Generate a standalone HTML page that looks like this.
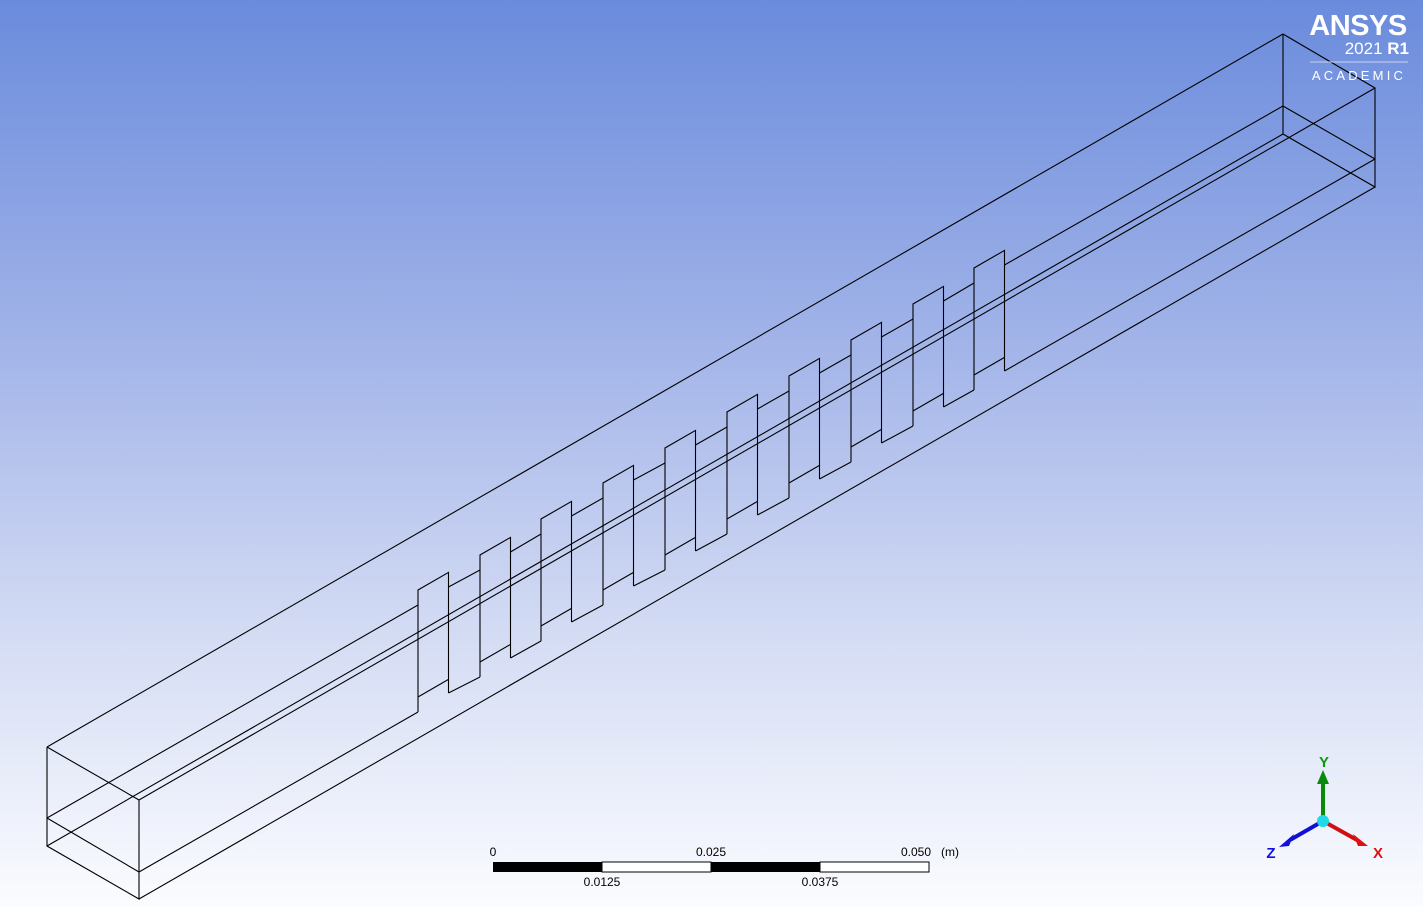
<!DOCTYPE html>
<html><head><meta charset="utf-8"><style>
html,body{margin:0;padding:0}
body{width:1423px;height:907px;overflow:hidden;background:linear-gradient(to bottom,#6a8bdc 0%,#a5b6e9 40%,#d4dcf4 70%,#fbfcff 100%);font-family:"Liberation Sans",sans-serif}
svg{position:absolute;left:0;top:0}
</style></head><body>
<svg id="view" width="1423" height="907" viewBox="0 0 1423 907">
 <g id="wire" stroke="#000" stroke-width="1.1" fill="none">
  <polyline points="47,747 139,800 139,899 47,846 47,747"/>
  <line x1="47" y1="818" x2="139" y2="872"/>
  <polyline points="1283,34 1375,88 1375,187 1283,134 1283,34"/>
  <line x1="1283" y1="106" x2="1375" y2="159"/>
  <line x1="47" y1="747" x2="1283" y2="34"/>
  <line x1="139" y1="800" x2="1375" y2="88"/>
  <line x1="47" y1="846" x2="1283" y2="134"/>
  <line x1="139" y1="899" x2="1375" y2="187"/>
 </g>
 <g fill="#fff">
  <text x="1358" y="35" text-anchor="middle" font-size="29" font-weight="bold" letter-spacing="-0.5">ANSYS</text>
  <text x="1409" y="54" text-anchor="end" font-size="17">2021 <tspan font-weight="bold">R1</tspan></text>
  <line x1="1310" y1="62" x2="1408" y2="62" stroke="#c8d2f0" stroke-width="1"/>
  <text x="1359" y="80" text-anchor="middle" font-size="13" letter-spacing="3.2">ACADEMIC</text>
 </g>
 <g font-size="12" fill="#000">
  <rect x="493" y="862" width="109" height="10" fill="#000"/>
  <rect x="602" y="862" width="109" height="10" fill="#fff" stroke="#000" stroke-width="1"/>
  <rect x="711" y="862" width="109" height="10" fill="#000"/>
  <rect x="820" y="862" width="109" height="10" fill="#fff" stroke="#000" stroke-width="1"/>
  <text x="493" y="856" text-anchor="middle">0</text>
  <text x="711" y="856" text-anchor="middle">0.025</text>
  <text x="916" y="856" text-anchor="middle">0.050</text>
  <text x="950" y="856" text-anchor="middle">(m)</text>
  <text x="602" y="886" text-anchor="middle">0.0125</text>
  <text x="820" y="886" text-anchor="middle">0.0375</text>
 </g>
 <g font-size="15" font-weight="bold">
  <line x1="1323" y1="821" x2="1323" y2="782" stroke="#0a8a0a" stroke-width="4"/>
  <polygon points="1317,784 1329,784 1323,770" fill="#0a8a0a"/>
  <text x="1324" y="767" text-anchor="middle" fill="#0a9a0a">Y</text>
  <line x1="1323" y1="821" x2="1357" y2="840" stroke="#d01010" stroke-width="4"/>
  <polygon points="1353,834 1358,846 1368,846" fill="#e01010"/>
  <text x="1378" y="858" text-anchor="middle" fill="#e01010">X</text>
  <line x1="1323" y1="821" x2="1290" y2="840" stroke="#1010d0" stroke-width="4"/>
  <polygon points="1294,834 1289,846 1279,847" fill="#1010e0"/>
  <text x="1271" y="858" text-anchor="middle" fill="#1010e0">Z</text>
  <circle cx="1323" cy="821" r="6" fill="#20d8e8"/>
 </g>
</svg>
<script>
var finIndex=[0,1,2,3,4,5,6,7,8,9];
var finLeftX=[418,480,541,603,665,727,789,851,913,974];
var finTopY=[590,555,519,483,448,412,376,340,304,268];
var NS='http://www.w3.org/2000/svg';
var g=document.getElementById('wire');
function seg(x1,y1,x2,y2,name){
 var l=document.createElementNS(NS,'line');
 l.setAttribute('x1',x1);l.setAttribute('y1',y1);l.setAttribute('x2',x2);l.setAttribute('y2',y2);
 
 
 g.appendChild(l);
}
var w=30.5, d=17.6;
// mid-plane lines to first fin
seg(47,818,finLeftX[0],finTopY[0]+15,'mid-back-line-start');
seg(139,872,finLeftX[0],finTopY[0]+122,'mid-front-line-start');
finIndex.forEach(function(i){
 var a=finLeftX[i], t=finTopY[i];
 var p=document.createElementNS(NS,'polyline');
 p.setAttribute('points',[a,t+122,a,t,a+w,t-d,a+w,t+103].join(' '));
 
 
 g.appendChild(p);
 seg(a,t+107,a+w,t+107-d,'fin-base-line');
 if(i<finIndex.length-1){
  var na=finLeftX[i+1], nt=finTopY[i+1];
  seg(a+w,t-3,na,nt+15,'fin-gap-upper');
  seg(a+w,t+103,na,nt+122,'fin-gap-lower');
 } else {
  seg(a+w,t-3,1283,106,'mid-back-line-end');
  seg(a+w,t+103,1375,159,'mid-front-line-end');
 }
});
</script>
</body></html>
